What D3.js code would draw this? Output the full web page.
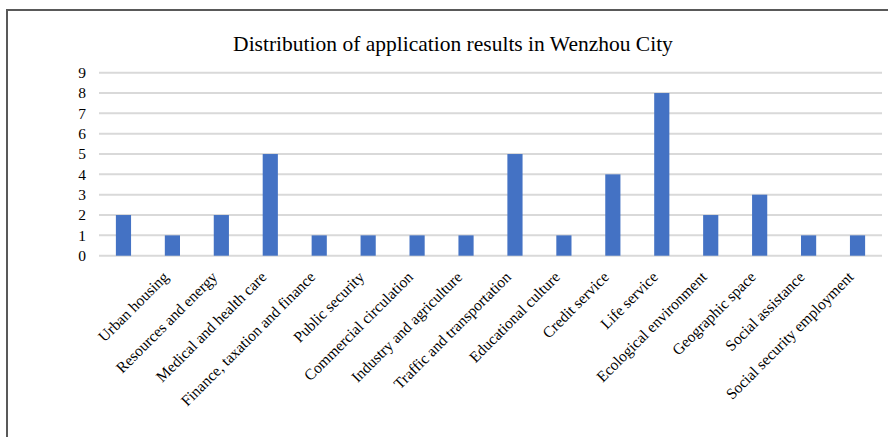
<!DOCTYPE html>
<meta charset="utf-8">
<style>
  body { margin: 0; background: #fff; }
  * { font-family: 'Liberation Serif', 'Times New Roman', serif; }
</style>
<svg width="888" height="437"></svg>
<script src="https://d3js.org/d3.v7.min.js"></script>
<script>
// first slot has no label in the original chart
var categories = ["", "Urban housing", "Resources and energy", "Medical and health care",
  "Finance, taxation and finance", "Public security", "Commercial circulation",
  "Industry and agriculture", "Traffic and transportation", "Educational culture",
  "Credit service", "Life service", "Ecological environment", "Geographic space",
  "Social assistance", "Social security employment"];
var values = [2, 1, 2, 5, 1, 1, 1, 1, 5, 1, 4, 8, 2, 3, 1, 1];
var yTicks = [0, 1, 2, 3, 4, 5, 6, 7, 8, 9];

var svg = d3.select("svg"),
    plot = {left: 99, right: 882, top: 72.7, bottom: 255.7};

// frame (only left and top edges visible)
svg.append("line").attr("x1", 7).attr("x2", 7).attr("y1", 9).attr("y2", 437)
    .attr("stroke", "#595959").attr("stroke-width", 2);
svg.append("line").attr("x1", 6).attr("x2", 888).attr("y1", 10).attr("y2", 10)
    .attr("stroke", "#595959").attr("stroke-width", 2);

var x = d3.scaleBand()
    .domain(d3.range(categories.length))
    .range([plot.left, plot.right])
    .paddingInner(0.69)
    .paddingOuter(0.345);

var y = d3.scaleLinear().domain([0, 9]).range([plot.bottom, plot.top]);

// gridlines
svg.append("g").selectAll("line").data(yTicks).join("line")
    .attr("x1", plot.left).attr("x2", plot.right)
    .attr("y1", function(d) { return y(d); })
    .attr("y2", function(d) { return y(d); })
    .attr("stroke", "#d9d9d9").attr("stroke-width", 2);

svg.append("g").selectAll("text").data(yTicks).join("text")
    .attr("x", 86)
    .attr("y", function(d) { return y(d); })
    .attr("dy", "0.34em")
    .attr("text-anchor", "end")
    .style("font-size", "15.5px")
    .attr("fill", "#000")
    .text(function(d) { return d; });

svg.append("g").selectAll("rect").data(values).join("rect")
    .attr("x", function(d, i) { return x(i); })
    .attr("width", x.bandwidth())
    .attr("y", function(d) { return y(d); })
    .attr("height", function(d) { return y(0) - y(d); })
    .attr("fill", "#4472C4");

svg.append("g").selectAll("text").data(categories).join("text")
    .attr("transform", function(d, i) {
      return "translate(" + (x(i) + x.bandwidth() / 2 - 3) + "," + 278 + ") rotate(-45)";
    })
    .attr("text-anchor", "end")
    .style("font-size", "15.5px")
    .attr("fill", "#000")
    .text(function(d) { return d; });

svg.append("text")
    .attr("x", 453)
    .attr("y", 51)
    .attr("text-anchor", "middle")
    .style("font-size", "21.5px")
    .attr("fill", "#000")
    .text("Distribution of application results in Wenzhou City");
</script>
